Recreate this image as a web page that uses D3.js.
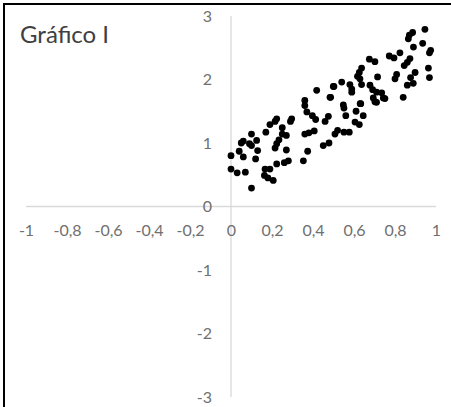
<!DOCTYPE html>
<html>
<head>
<meta charset="utf-8">
<script src="https://cdn.jsdelivr.net/npm/d3@7"></script>
<style>
  body { margin: 0; background: #ffffff; }
  text { font-family: Lato, "Open Sans", sans-serif; }
</style>
</head>
<body>
<div id="chart"></div>
<script>
// values
var xValues = [
    0.00, 0.00, 0.03, 0.07, 0.10, 0.04, 0.05, 0.06, 0.06, 0.10,
    0.09, 0.10, 0.125, 0.13, 0.12, 0.17, 0.19, 0.215, 0.25, 0.29,
    0.27, 0.25, 0.234, 0.223, 0.215, 0.27, 0.166, 0.19, 0.163, 0.18,
    0.206, 0.223, 0.26, 0.28, 0.353, 0.374, 0.36, 0.38, 0.406, 0.45,
    0.478, 0.36, 0.36, 0.37, 0.397, 0.413, 0.459, 0.475, 0.507, 0.418,
    0.499, 0.483, 0.551, 0.56, 0.61, 0.63, 0.645, 0.605, 0.626, 0.52,
    0.551, 0.577, 0.71, 0.751, 0.946, 0.886, 0.87, 0.865, 0.935, 0.89,
    0.974, 0.968, 0.873, 0.86, 0.845, 0.824, 0.795, 0.772, 0.963, 0.968,
    0.898, 0.876, 0.889, 0.86, 0.84, 0.808, 0.80, 0.715, 0.675, 0.702,
    0.637, 0.626, 0.617, 0.629, 0.637, 0.58, 0.589, 0.589, 0.54, 0.502,
    0.486, 0.678, 0.691, 0.71, 0.735, 0.743, 0.694, 0.702, 0.633, 0.548,
    0.223, 0.296
];
var yValues = [
    0.80, 0.59, 0.53, 0.54, 0.29, 0.87, 1.00, 1.03, 0.78, 1.14,
    0.99, 0.96, 1.04, 0.88, 0.75, 1.17, 1.29, 1.34, 1.24, 1.34,
    1.12, 1.14, 1.05, 0.99, 0.92, 0.89, 0.59, 0.59, 0.49, 0.45,
    0.41, 0.67, 0.69, 0.72, 0.72, 0.87, 1.14, 1.16, 1.19, 0.96,
    1.00, 1.67, 1.59, 1.49, 1.43, 1.37, 1.34, 1.42, 1.14, 1.83,
    1.89, 1.72, 1.55, 1.43, 1.50, 1.62, 1.43, 1.33, 1.29, 1.20,
    1.17, 1.17, 1.64, 1.70, 2.79, 2.74, 2.70, 2.64, 2.57, 2.51,
    2.46, 2.42, 2.33, 2.27, 2.22, 2.42, 2.34, 2.37, 2.18, 2.03,
    2.11, 2.03, 1.94, 1.91, 1.72, 2.08, 2.01, 2.04, 2.32, 2.28,
    2.18, 2.11, 2.05, 2.01, 1.92, 1.92, 1.85, 1.80, 1.96, 1.89,
    1.72, 1.91, 1.84, 1.80, 1.79, 1.71, 1.71, 1.65, 1.62, 1.60,
    1.38, 1.38
];
var xTicks = [-1, -0.8, -0.6, -0.4, -0.2, 0, 0.2, 0.4, 0.6, 0.8, 1];
var yTicks = [-3, -2, -1, 0, 1, 2, 3];
var title = "Gráfico I";

var points = xValues.map(function (d, i) {
    return { x: d, y: yValues[i] };
});

var width = 451;
var height = 407;

var svg = d3.select('#chart').append('svg')
    .attr("width", width)
    .attr("height", height)

// frame (only left and top edge show in the picture)
svg.append("rect")
    .attr("x", 4)
    .attr("y", 4)
    .attr("width", 600)
    .attr("height", 600)
    .attr("fill", "none")
    .attr("stroke", "#000000")
    .attr("stroke-width", 2)

//scale
var x = d3.scaleLinear()
    .domain([-1, 1])
    .range([26, 436]);

var y = d3.scaleLinear()
    .domain([-3, 3])
    .range([397, 16]);

var fmt = function (d) {
    return String(d).replace(".", ",");
};

// axis lines cross at the origin
svg.append("line")
    .attr("x1", x(-1))
    .attr("x2", x(1))
    .attr("y1", y(0))
    .attr("y2", y(0))
    .attr("stroke", "#d9d9d9")
    .attr("stroke-width", 1.3)

svg.append("line")
    .attr("x1", x(0))
    .attr("x2", x(0))
    .attr("y1", y(3))
    .attr("y2", y(-3))
    .attr("stroke", "#d9d9d9")
    .attr("stroke-width", 1.3)

//x-axis labels
var xAxisCall = d3.axisBottom(x)
    .tickValues(xTicks)
    .tickFormat(fmt)
    .tickSize(0)
    .tickPadding(18);
var xAxis = svg.append('g')
    .attr("class", "x-axis")
    .attr("transform", "translate(0, " + y(0) + ")")
    .call(xAxisCall)
xAxis.select(".domain").remove();
xAxis.selectAll("text")
    .attr("fill", "#707070")
    .style("font-size", "16px")

//y-axis labels
var yAxisCall = d3.axisLeft(y)
    .tickValues(yTicks)
    .tickFormat(fmt)
    .tickSize(0)
    .tickPadding(19);
var yAxis = svg.append('g')
    .attr("class", "y-axis")
    .attr("transform", "translate(" + x(0) + ", 0)")
    .call(yAxisCall)
yAxis.select(".domain").remove();
yAxis.selectAll("text")
    .attr("fill", "#707070")
    .style("font-size", "16px")

// points
svg.selectAll(".dot")
    .data(points)
    .enter()
    .append("circle")
    .attr("class", "dot")
    .attr("cx", function (d) { return x(d.x); })
    .attr("cy", function (d) { return y(d.y); })
    .attr("r", 3.4)
    .attr("fill", "#000000")

svg.append("text")
    .attr("x", 20)
    .attr("y", 43)
    .attr("fill", "#404040")
    .style("font-size", "24px")
    .text(title)
</script>
</body>
</html>
